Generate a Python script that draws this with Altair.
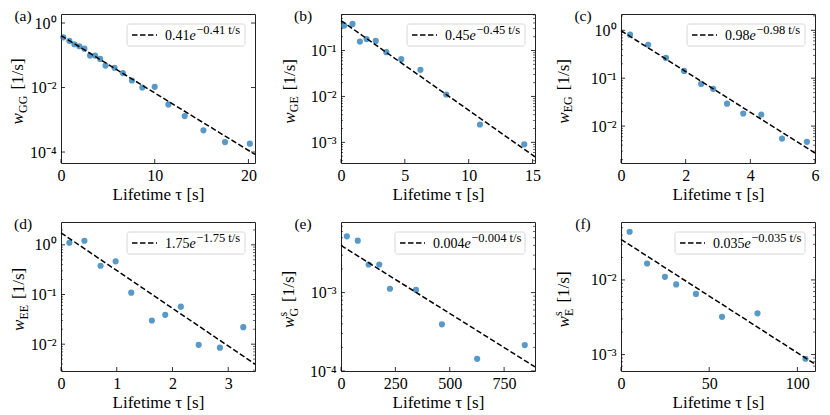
import math
import altair as alt
import pandas as pd

# ---------------- data ----------------
# (a) w_GG
a_t = [0.25, 0.89, 1.43, 1.96, 2.5, 3.1, 3.64, 4.18, 4.75, 5.71, 6.6, 7.57, 8.68, 10.0, 11.46, 13.2, 15.2, 17.5, 20.15]
a_w = [0.36, 0.28, 0.22, 0.19, 0.16, 0.098, 0.098, 0.077, 0.048, 0.041, 0.028, 0.0165, 0.0100, 0.0105,
       0.0030, 0.0013, 0.00047, 0.000204, 0.000182]
# (b) w_GE
b_t = [0.25, 0.9, 1.48, 2.0, 2.72, 3.55, 4.72, 6.22, 8.24, 10.88, 14.35]
b_w = [0.35, 0.38, 0.157, 0.178, 0.162, 0.092, 0.065, 0.038, 0.011, 0.00245, 0.00091]
# (c) w_EG
c_t = [0.28, 0.84, 1.39, 1.95, 2.48, 2.85, 3.28, 3.78, 4.34, 4.98, 5.75]
c_w = [0.81, 0.50, 0.265, 0.142, 0.076, 0.060, 0.0294, 0.0183, 0.0175, 0.0055, 0.0047]
# (d) w_EE
d_t = [0.15, 0.42, 0.71, 0.98, 1.26, 1.63, 1.87, 2.15, 2.47, 2.85, 3.27]
d_w = [1.10, 1.21, 0.38, 0.465, 0.109, 0.030, 0.039, 0.057, 0.0097, 0.0085, 0.022]
# (e) w^s_G
e_t = [27, 77, 127, 176, 225, 345, 464, 626, 845]
e_w = [0.00521, 0.00459, 0.00228, 0.00228, 0.00112, 0.00108, 0.000394, 0.000143, 0.000214]
# (f) w^s_E
f_t = [4.9, 14.8, 24.9, 31.3, 42.5, 57.3, 77.4, 104.6]
f_w = [0.0442, 0.0166, 0.0110, 0.0087, 0.0065, 0.0032, 0.00357, 0.00088]

# fitted rates (legend values)
rates = [0.41, 0.45, 0.98, 1.75, 0.004, 0.035]
rate_txt = ["0.41", "0.45", "0.98", "1.75", "0.004", "0.035"]
letters = ["(a)", "(b)", "(c)", "(d)", "(e)", "(f)"]
subs = ["GG", "GE", "EG", "EE", "G", "E"]
sups = ["", "", "", "", "s", "s"]

x_domains = [[0, 20.7], [0, 15.19], [0, 6.0], [0, 3.48], [0, 892], [0, 110]]
x_ticks = [[0, 10, 20], [0, 5, 10, 15], [0, 2, 4, 6], [0, 1, 2, 3], [0, 250, 500, 750], [0, 50, 100]]
y_log_domains = [[-4.34, 0.28], [-3.45, -0.204], [-2.77, 0.34], [-2.54, 0.46], [-4.0, -2.10], [-3.22, -1.224]]
y_major_exp = [[-4, -2, 0], [-3, -2, -1], [-2, -1, 0], [-2, -1, 0], [-4, -3], [-3, -2]]
y_minor = [False, True, True, True, True, True]
ytitle_x = [-38, -46.5, -52.5, -37, -47, -52]

# ---------------- styling ----------------
W, H = 194, 149
FONT = "Liberation Serif"
SUPMAP = {"-": "⁻", "0": "⁰", "1": "¹", "2": "²", "3": "³", "4": "⁴"}
GW = {"G": 0.722, "E": 0.611, "s": 0.389}
one = pd.DataFrame({"k": [0]})


def sup_label(k):
    return "10" + "".join(SUPMAP[c] for c in str(k))


def txt(text, x, y, size, angle=0, align="left", baseline="alphabetic", italic=False):
    kw = dict(text=text, font=FONT, fontSize=size, align=align, baseline=baseline, color="black",
              fontWeight="normal")
    if angle:
        kw["angle"] = angle
    if italic:
        kw["fontStyle"] = "italic"
    return alt.Chart(one).mark_text(**kw).encode(x=alt.value(x), y=alt.value(y))


def panel(i, t, w):
    xs = alt.Scale(domain=x_domains[i], nice=False, zero=False)
    lo, hi = y_log_domains[i]
    ys = alt.Scale(type="log", domain=[10 ** lo, 10 ** hi], nice=False)
    exps = sorted(y_major_exp[i])
    majors = [10.0 ** k for k in exps]
    expr = ""
    for k in exps[:-1]:
        expr += f"datum.value < {10 ** (k + 0.5)} ? '{sup_label(k)}' : "
    expr += f"'{sup_label(exps[-1])}'"

    xax = alt.Axis(values=x_ticks[i], title="Lifetime τ [s]", ticks=False, domain=False, grid=False,
                   labelPadding=4, titlePadding=3, labelFlush=False, labelOverlap=False, format="d",
                   titleFontWeight="normal")
    yax = alt.Axis(values=majors, labelExpr=expr, title=None, ticks=False, domain=False, grid=False,
                   labelPadding=5, labelOverlap=False)

    pts = pd.DataFrame({"t": t, "w": w})
    layers = []
    layers.append(
        alt.Chart(pts).mark_circle(size=38, color="#1f77b4", opacity=0.75).encode(
            x=alt.X("t:Q", scale=xs, axis=xax),
            y=alt.Y("w:Q", scale=ys, axis=yax),
        )
    )
    A = rates[i]
    fit = pd.DataFrame({"t": x_domains[i]})
    layers.append(
        alt.Chart(fit).transform_calculate(w=f"{A}*exp(-{A}*datum.t)")
        .mark_line(color="black", strokeDash=[5.5, 2.5], strokeWidth=1.5)
        .encode(x=alt.X("t:Q", scale=xs, axis=xax), y=alt.Y("w:Q", scale=ys, axis=yax))
    )
    # inward ticks
    ymaj = pd.DataFrame({"w": majors})
    for x0, x1 in [(0, 4), (W - 4, W)]:
        layers.append(alt.Chart(ymaj).mark_rule(color="black", strokeWidth=0.8).encode(
            y=alt.Y("w:Q", scale=ys, axis=yax), x=alt.value(x0), x2=alt.value(x1)))
    if y_minor[i]:
        mins = [m * 10.0 ** k for k in range(math.floor(lo), math.ceil(hi)) for m in range(2, 10)
                if lo <= math.log10(m * 10.0 ** k) <= hi]
        ymin = pd.DataFrame({"w": mins})
        for x0, x1 in [(0, 2), (W - 2, W)]:
            layers.append(alt.Chart(ymin).mark_rule(color="black", strokeWidth=0.6).encode(
                y=alt.Y("w:Q", scale=ys, axis=yax), x=alt.value(x0), x2=alt.value(x1)))
    xmaj = pd.DataFrame({"t": x_ticks[i]})
    layers.append(alt.Chart(xmaj).mark_rule(color="black", strokeWidth=0.8).encode(
        x=alt.X("t:Q", scale=xs, axis=xax), y=alt.value(H - 4), y2=alt.value(H)))

    # legend
    bx0 = 66 if i < 4 else 54
    bx1 = 184
    layers.append(alt.Chart(one).mark_rect(fill="white", fillOpacity=0.85, stroke="#cccccc", strokeWidth=0.8,
                                           cornerRadius=2.5).encode(
        x=alt.value(bx0), x2=alt.value(bx1), y=alt.value(10), y2=alt.value(32)))
    layers.append(alt.Chart(one).mark_rule(color="black", strokeDash=[5.5, 2.5], strokeWidth=1.5).encode(
        x=alt.value(bx0 + 5), x2=alt.value(bx0 + 30), y=alt.value(21)))
    num = rate_txt[i]
    fs_main, fs_sup = 14, 12.5
    wnum = sum(0.25 if c == "." else 0.5 for c in num) * fs_main
    tx = bx0 + 38
    layers.append(txt(num, tx, 26, fs_main))
    layers.append(txt("e", tx + wnum, 26, fs_main, italic=True))
    layers.append(txt(f"−{num} t/s", tx + wnum + 0.444 * fs_main + 0.5, 19.5, fs_sup))

    # panel letter
    layers.append(txt(letters[i], -38, 1.5, 15.5, align="center", baseline="middle"))

    # y title: w_{sub}^{sup} [1/s], rotated
    sub = subs[i]
    ssz = 12
    wsub = sum(GW[c] for c in sub) * ssz
    if sups[i]:
        wsub = max(wsub, GW["s"] * ssz)
    s_sub = 11.5
    s_br = s_sub + wsub + 6
    L = s_br + 31
    y0 = H / 2 + 3 + L / 2
    xb = ytitle_x[i]
    layers.append(txt("w", xb, y0, 17, angle=270, italic=True))
    layers.append(txt(sub, xb + 3.5, y0 - s_sub, ssz, angle=270))
    if sups[i]:
        layers.append(txt(sups[i], xb - 7.5, y0 - s_sub, ssz, angle=270))
    layers.append(txt("[1/s]", xb, y0 - s_br, 17, angle=270))

    return alt.layer(*layers).properties(width=W, height=H)


series = [(a_t, a_w), (b_t, b_w), (c_t, c_w), (d_t, d_w), (e_t, e_w), (f_t, f_w)]
panels = [panel(i, t, w) for i, (t, w) in enumerate(series)]

chart = alt.concat(*panels, columns=3, spacing={"row": 59, "column": 86}, bounds="flush").properties(
    padding=0
).configure_axis(
    labelFont=FONT, titleFont=FONT, labelFontSize=16, titleFontSize=17, titleFontWeight="normal",
    labelColor="black", titleColor="black"
).configure_view(stroke="#222222", strokeWidth=1)

chart.save("out.html", embed_options={"renderer": "svg", "actions": False})
